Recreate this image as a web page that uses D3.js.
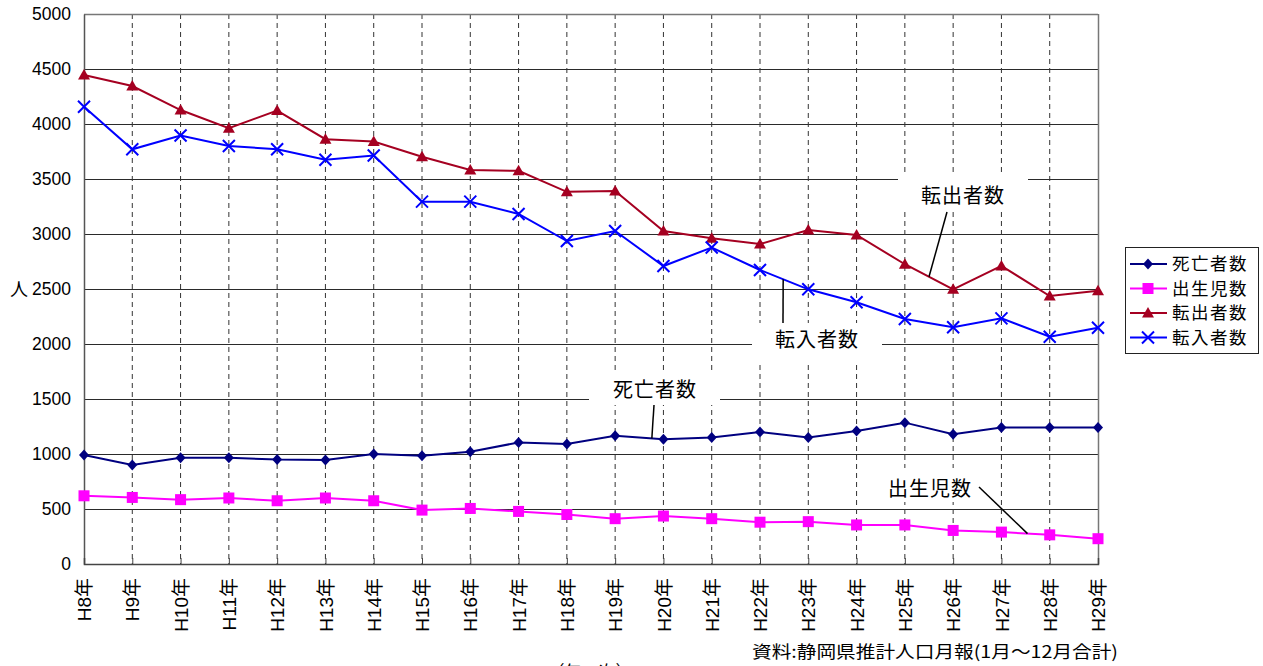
<!DOCTYPE html>
<html lang="ja">
<head>
<meta charset="utf-8">
<script src="https://cdn.jsdelivr.net/npm/d3@7/dist/d3.min.js"></script>
<style>
  html, body { margin: 0; padding: 0; background: #fff; }
  svg { display: block; }
</style>
</head>
<body>
<svg id="chart" width="1263" height="666"></svg>
<script>
// 年次（平成）
const years = ["H8年","H9年","H10年","H11年","H12年","H13年","H14年","H15年","H16年","H17年","H18年",
               "H19年","H20年","H21年","H22年","H23年","H24年","H25年","H26年","H27年","H28年","H29年"];

// 各系列（人）
const deaths    = [990, 900, 965, 965, 950, 945, 1000, 985, 1020, 1105, 1090, 1165, 1135, 1150, 1200, 1150, 1210, 1285, 1180, 1240, 1240, 1240];
const births    = [620, 605, 585, 600, 575, 600, 575, 490, 505, 478, 450, 412, 436, 412, 380, 385, 355, 355, 305, 290, 265, 230];
const moveOut   = [4445, 4345, 4127, 3962, 4122, 3862, 3840, 3703, 3582, 3574, 3383, 3390, 3027, 2962, 2909, 3037, 2991, 2725, 2497, 2710, 2436, 2485];
const moveIn    = [4157, 3770, 3895, 3800, 3770, 3675, 3713, 3294, 3294, 3182, 2936, 3027, 2709, 2877, 2673, 2497, 2380, 2228, 2152, 2233, 2066, 2148];

const yTicks = [0, 500, 1000, 1500, 2000, 2500, 3000, 3500, 4000, 4500, 5000];

const seriesNames = ["死亡者数", "出生児数", "転出者数", "転入者数"];
const seriesData  = [deaths, births, moveOut, moveIn];

const svg = d3.select("#chart");
const plotL = 84, plotR = 1098, plotT = 14, plotB = 564;

const x = d3.scalePoint().domain(years).range([plotL, plotR]);
const xi = d3.scaleLinear().domain([0, years.length - 1]).range([plotL, plotR]); // fractional category positions
const y = d3.scaleLinear().domain([0, 5000]).range([plotB, plotT]);

const latin = "'Liberation Sans', Arial, 'Noto Sans CJK JP', sans-serif";
const jp = "'Noto Sans CJK JP', 'Noto Sans CJK SC', sans-serif";

// horizontal grid
svg.append("g")
  .selectAll("line").data(yTicks.slice(1, -1)).join("line")
  .attr("x1", plotL).attr("x2", plotR)
  .attr("y1", d => Math.round(y(d)) + 0.5).attr("y2", d => Math.round(y(d)) + 0.5)
  .attr("stroke", "#2a2a2a").attr("stroke-width", 1.2);

// vertical dashed grid
svg.append("g")
  .selectAll("line").data(years.slice(1, -1)).join("line")
  .attr("x1", d => x(d)).attr("x2", d => x(d))
  .attr("y1", plotT).attr("y2", plotB)
  .attr("stroke", "#333").attr("stroke-width", 1)
  .attr("stroke-dasharray", "5,4");

// callout labels (white boxes interrupt the grid); leader lines end on the series
const callouts = [
  { text: "転出者数", box: [898, 176, 130, 34], tx: 963, ty: 196,
    line: [[947, 212], [17.5, (moveOut[17] + moveOut[18]) / 2]] },
  { text: "転入者数", box: [752, 323, 130, 38], tx: 817, ty: 340,
    line: [[783, 323], [14.48, moveIn[14] + (moveIn[15] - moveIn[14]) * 0.48]] },
  { text: "死亡者数", box: [589, 374, 131, 31], tx: 655, ty: 390,
    line: [[654, 405], [11.76, deaths[11] + (deaths[12] - deaths[11]) * 0.76]] },
  { text: "出生児数", box: [866, 468, 126, 34], tx: 930, ty: 489,
    line: [[979, 487], [19.54, births[19] + (births[20] - births[19]) * 0.54]] }
];

svg.append("g").selectAll("rect").data(callouts).join("rect")
  .attr("x", d => d.box[0]).attr("y", d => d.box[1])
  .attr("width", d => d.box[2]).attr("height", d => d.box[3])
  .attr("fill", "#fff");

// plot frame
svg.append("line").attr("x1", plotL).attr("x2", plotR).attr("y1", plotT + 0.5).attr("y2", plotT + 0.5)
  .attr("stroke", "#777").attr("stroke-width", 1.5);
svg.append("line").attr("x1", plotR + 0.5).attr("x2", plotR + 0.5).attr("y1", plotT).attr("y2", plotB)
  .attr("stroke", "#777").attr("stroke-width", 1.5);

// y axis
const yAxis = svg.append("g").attr("transform", `translate(${plotL},0)`)
  .call(d3.axisLeft(y).tickValues(yTicks).tickSize(0).tickPadding(13).tickFormat(d3.format("d")));
yAxis.select(".domain").attr("stroke", "#555").attr("stroke-width", 1.5);
yAxis.selectAll("text").attr("font-family", latin).attr("font-size", 17.5).attr("fill", "#000");

// x axis
const xAxis = svg.append("g").attr("transform", `translate(0,${plotB})`)
  .call(d3.axisBottom(x).tickSize(-6).tickPadding(0));
xAxis.select(".domain").attr("stroke", "#444").attr("stroke-width", 1.5);
xAxis.selectAll(".tick line").attr("stroke", "#444");
xAxis.selectAll("text")
  .attr("font-family", latin).attr("font-size", 19).attr("fill", "#000")
  .attr("text-anchor", "end")
  .attr("transform", "translate(0,14) rotate(-90)")
  .attr("dx", 0).attr("dy", "0.35em").attr("y", 0).attr("x", 0);

// y axis title
svg.append("text").attr("x", 19).attr("y", 296).attr("text-anchor", "middle")
  .attr("font-family", jp).attr("font-size", 18).text("人");

// series styles
const styles = [
  { color: "#000080", marker: "diamond" },
  { color: "#FF00FF", marker: "square" },
  { color: "#A50021", marker: "triangle" },
  { color: "#0000FF", marker: "cross" }
];

function drawMarker(g, kind, color) {
  if (kind === "diamond") {
    g.append("path").attr("d", "M0,-5.5L5,0L0,5.5L-5,0Z").attr("fill", color);
  } else if (kind === "square") {
    g.append("rect").attr("x", -5.5).attr("y", -5.5).attr("width", 11).attr("height", 11).attr("fill", color);
  } else if (kind === "triangle") {
    g.append("path").attr("d", "M0,-6L6,4.5L-6,4.5Z").attr("fill", color);
  } else {
    g.append("path").attr("d", "M-6,-6L6,6M-6,6L6,-6").attr("stroke", color).attr("stroke-width", 2).attr("fill", "none");
  }
}

const line = d3.line().x((d, i) => x(years[i])).y(d => y(d));

seriesData.forEach((vals, k) => {
  const st = styles[k];
  svg.append("path").datum(vals)
    .attr("d", line).attr("fill", "none")
    .attr("stroke", st.color).attr("stroke-width", 2);
  const pts = svg.append("g").selectAll("g").data(vals).join("g")
    .attr("transform", (d, i) => `translate(${x(years[i])},${y(d)})`);
  pts.each(function () { drawMarker(d3.select(this), st.marker, st.color); });
});

// callout texts and leader lines
svg.append("g").selectAll("text").data(callouts).join("text")
  .attr("x", d => d.tx).attr("y", d => d.ty).attr("dy", "0.36em")
  .attr("text-anchor", "middle")
  .attr("font-family", jp).attr("font-size", 20).attr("letter-spacing", 1)
  .text(d => d.text);

svg.append("g").selectAll("line").data(callouts).join("line")
  .attr("x1", d => d.line[0][0]).attr("y1", d => d.line[0][1])
  .attr("x2", d => xi(d.line[1][0])).attr("y2", d => y(d.line[1][1]))
  .attr("stroke", "#000").attr("stroke-width", 1.5);

// legend
const lg = svg.append("g").attr("transform", "translate(1125,247)");
lg.append("rect").attr("x", 0.5).attr("y", 0.5).attr("width", 133).attr("height", 106)
  .attr("fill", "#fff").attr("stroke", "#222").attr("stroke-width", 1);
seriesNames.forEach((name, k) => {
  const st = styles[k];
  const row = lg.append("g").attr("transform", `translate(0,${17 + k * 24.5})`);
  row.append("line").attr("x1", 5).attr("x2", 42).attr("y1", 0).attr("y2", 0)
    .attr("stroke", st.color).attr("stroke-width", 2);
  const m = row.append("g").attr("transform", "translate(23,0)");
  drawMarker(m, st.marker, st.color);
  row.append("text").attr("x", 47).attr("y", 0).attr("dy", "0.36em")
    .attr("font-family", jp).attr("font-size", 17.5).attr("letter-spacing", 1.5)
    .text(name);
});

// source note
svg.append("text").attr("x", 752).attr("y", 652).attr("dy", "0.36em")
  .attr("font-family", jp).attr("font-size", 17)
  .attr("textLength", 366).attr("lengthAdjust", "spacingAndGlyphs")
  .text("資料:静岡県推計人口月報(1月～12月合計)");

// axis caption at the bottom edge
svg.append("text").attr("x", 590).attr("y", 678).attr("text-anchor", "middle")
  .attr("font-family", jp).attr("font-size", 17)
  .text("（年　次）");
</script>
</body>
</html>
